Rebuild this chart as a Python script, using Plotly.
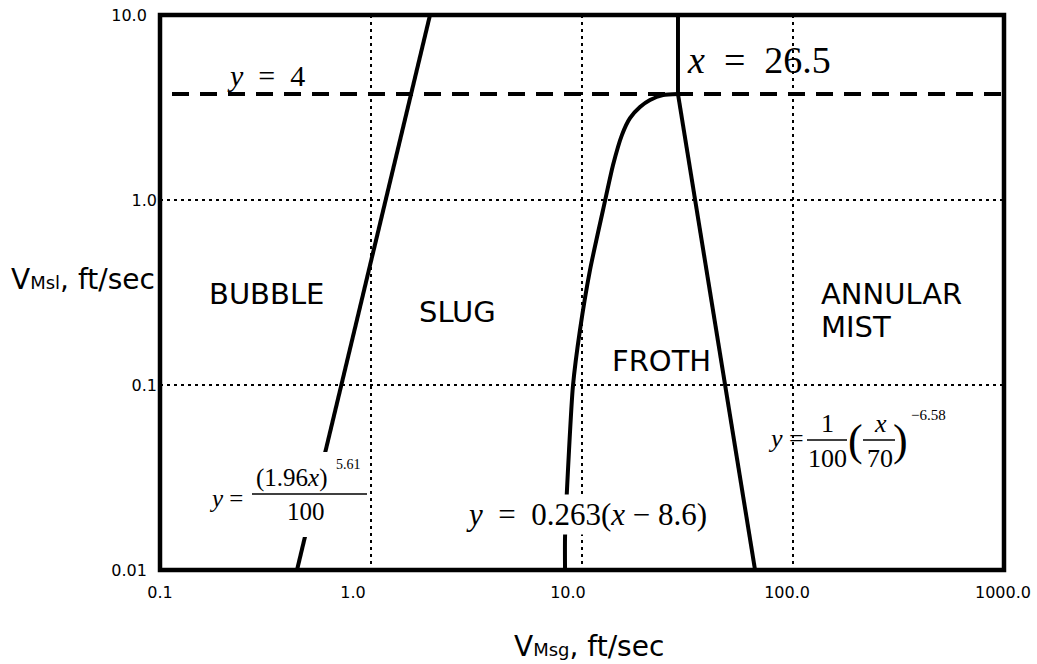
import plotly.graph_objects as go

# ---- data ----
bubble_x = [0.446, 1.904]
bubble_y = [0.01, 10.0]

froth_x = [8.31, 8.31, 8.68, 9.06, 9.78, 10.91, 12.58, 14.03, 15.47, 16.88, 18.83, 21.0, 24.2, 28.5]
froth_y = [0.01, 0.0151, 0.0445, 0.0989, 0.198, 0.418, 0.883, 1.546, 2.25, 2.77, 3.18, 3.47, 3.69, 3.74]

annular_x = [28.5, 66.1]
annular_y = [3.74, 0.01]

mist_x = [28.5, 28.5]
mist_y = [3.74, 10.0]

limit_x = [0.114, 1000.0]
limit_y = [3.74, 3.74]

x_grid = [1, 10, 100]
x_label_pos = [0.1, 0.822, 8.58, 93.7, 989]
x_label_text = ["0.1", "1.0", "10.0", "100.0", "1000.0"]
y_ticks = [0.01, 0.1, 1, 10]
y_text = ["0.01\u00a0\u00a0", "0.1", "1.0", "10.0\u00a0\u00a0"]

W, H = 1037, 664
L, R, T, B = 160, 1004, 15, 570


def px(X):
    return (X - L) / (R - L)


def py(Y):
    return (B - Y) / (B - T)


SANS = "DejaVu Sans"
SERIF = "Liberation Serif"
ln = dict(color="black", width=4)

fig = go.Figure()
fig.add_trace(go.Scatter(x=bubble_x, y=bubble_y, mode="lines", line=ln, hoverinfo="skip"))
fig.add_trace(go.Scatter(x=froth_x, y=froth_y, mode="lines",
                         line=dict(color="black", width=4, shape="spline", smoothing=0.6), hoverinfo="skip"))
fig.add_trace(go.Scatter(x=annular_x, y=annular_y, mode="lines", line=ln, hoverinfo="skip"))
fig.add_trace(go.Scatter(x=mist_x, y=mist_y, mode="lines", line=ln, hoverinfo="skip"))
fig.add_trace(go.Scatter(x=limit_x, y=limit_y, mode="lines",
                         line=dict(color="black", width=4, dash="17px,11px"), hoverinfo="skip"))

ann = []


def A(text, X, Y, size, family=SANS, xanchor="center", yanchor="middle", **kw):
    ann.append(dict(text=text, x=px(X), y=py(Y), xref="paper", yref="paper",
                    xanchor=xanchor, yanchor=yanchor, showarrow=False,
                    font=dict(family=family, size=size, color="black"), **kw))


SUB = '<span style="font-size:18px">{}</span>'

# axis titles
A("V" + SUB.format("Msl") + ", ft/sec", 157, 279, 28, xanchor="right")
A("V" + SUB.format("Msg") + ", ft/sec", 589, 646, 28)

# region labels
A("BUBBLE", 266, 294, 29)
A("SLUG", 457, 312, 29)
A("FROTH", 661, 361, 29)
A("ANNULAR", 819, 294, 29, xanchor="left")
A("MIST", 819, 327, 29, xanchor="left")

# equations
A("<i>y</i>\u2002=\u20024", 266, 75, 30, SERIF)
A("<i>x</i>\u2002=\u200226.5", 759, 60, 38, SERIF)
A("<i>y</i>\u2002=\u20020.263(<i>x</i> \u2212 8.6)", 586, 514, 31, SERIF, bgcolor="white", borderpad=2)

# bubble formula
A("<i>y</i> =", 226, 498, 25, SERIF)
A("(1.96<i>x</i>)", 292, 478, 25, SERIF)
A("5.61", 334, 464, 14, SERIF, xanchor="left")
A("100", 306, 511, 25, SERIF)

# annular formula
A("<i>y</i> =", 766, 438, 26, SERIF, xanchor="left")
A("1", 827, 423, 26, SERIF)
A("100", 827, 458, 26, SERIF)
A("(", 855, 441, 44, SERIF)
A(")", 900, 441, 44, SERIF)
A("<i>x</i>", 880, 423, 26, SERIF)
A("70", 880, 458, 26, SERIF)
A("\u22126.58", 909, 415, 15, SERIF, xanchor="left")

shapes = [
    # white box behind bubble formula
    dict(type="rect", xref="paper", yref="paper", x0=px(200), x1=px(368), y0=py(537), y1=py(452),
         fillcolor="white", line=dict(width=0), layer="above"),
    # fraction bars
    dict(type="line", xref="paper", yref="paper", x0=px(252), x1=px(367), y0=py(494), y1=py(494),
         line=dict(color="black", width=1.5), layer="above"),
    dict(type="line", xref="paper", yref="paper", x0=px(807), x1=px(847), y0=py(440), y1=py(440),
         line=dict(color="black", width=1.5), layer="above"),
    dict(type="line", xref="paper", yref="paper", x0=px(863), x1=px(895), y0=py(440), y1=py(440),
         line=dict(color="black", width=1.5), layer="above"),
    # frame
    dict(type="rect", xref="paper", yref="paper", x0=0, x1=1, y0=0, y1=1,
         line=dict(color="black", width=4.5), layer="above"),
]

fig.update_layout(
    width=W, height=H, autosize=False,
    margin=dict(l=L, r=W - R, t=T, b=H - B, autoexpand=False),
    paper_bgcolor="white", plot_bgcolor="white",
    showlegend=False,
    annotations=ann,
    shapes=shapes,
    xaxis=dict(type="log", range=[-1, 3], tickvals=x_label_pos, ticktext=x_label_text,
               showgrid=False, zeroline=False, showline=False, ticks="", automargin=False,
               ticklabelstandoff=11,
               tickfont=dict(family=SANS, size=16, color="black"),
               minor=dict(tickvals=x_grid, showgrid=True, gridcolor="black", gridwidth=2,
                          griddash="3px,4px", ticks="")),
    yaxis=dict(type="log", range=[-2, 1], tickvals=y_ticks, ticktext=y_text,
               showgrid=True, gridcolor="black", gridwidth=2, griddash="3px,4px",
               zeroline=False, showline=False, ticks="", automargin=False,
               ticklabelstandoff=2,
               tickfont=dict(family=SANS, size=16, color="black")),
)

fig.write_html("out.html")
